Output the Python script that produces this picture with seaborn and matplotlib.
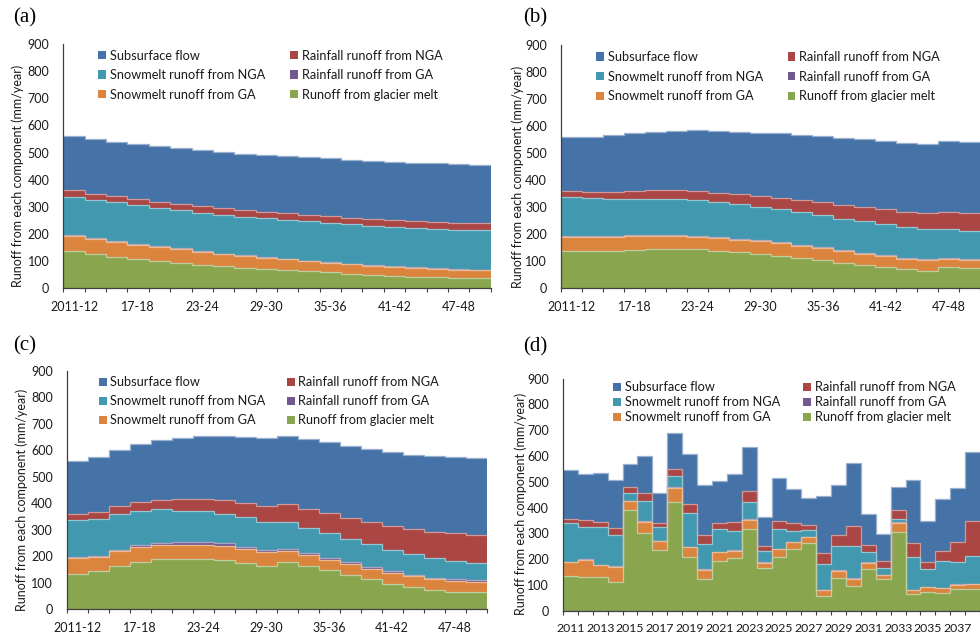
import numpy as np
import matplotlib
matplotlib.use("Agg")
import matplotlib.pyplot as plt
from matplotlib.patches import Patch
from matplotlib.colors import to_rgb
import seaborn as sns

sns.set_style("white")
plt.rcParams["font.family"] = ["Lato", "DejaVu Sans"]

# ---------------- data ----------------
components = ["Subsurface flow", "Rainfall runoff from NGA", "Snowmelt runoff from NGA",
              "Rainfall runoff from GA", "Snowmelt runoff from GA", "Runoff from glacier melt"]
colors = ["#4572A7", "#AA4643", "#4198AF", "#71588F", "#DB843D", "#89A54E"]

periods = ["2011-12", "13-14", "15-16", "17-18", "19-20", "21-22", "23-24", "25-26", "27-28",
           "29-30", "31-32", "33-34", "35-36", "37-38", "39-40", "41-42", "43-44", "45-46",
           "47-48", "49-50"]
years = [str(y) for y in range(2011, 2039)]

# panel (a)
a_subsurface = [200, 201, 200, 202, 204, 206, 206, 207, 207, 209, 210, 211, 214, 214, 212, 214, 215, 216, 216, 215]
a_rain_nga = [23, 25, 21, 20, 23, 24, 23, 24, 25, 24, 23, 24, 23, 23, 26, 27, 27, 27, 27, 24]
a_snow_nga = [140, 140, 143, 144, 142, 140, 143, 143, 143, 143, 144, 146, 145, 147, 147, 145, 144, 144, 144, 148]
a_rain_ga = [4, 4, 3, 3, 3, 3, 2, 2, 2, 2, 2, 2, 2, 2, 1, 1, 1, 1, 1, 1]
a_snow_ga = [56, 55, 55, 52, 49, 49, 47, 44, 43, 42, 39, 36, 36, 34, 33, 33, 33, 31, 31, 29]
a_glacier = [138, 125, 117, 109, 102, 95, 87, 82, 76, 71, 68, 63, 59, 54, 50, 47, 43, 41, 38, 37]

# panel (b)
b_subsurface = [199, 203, 209, 214, 217, 221, 225, 229, 231, 234, 239, 242, 244, 248, 251, 253, 255, 258, 263, 262]
b_rain_nga = [22, 25, 26, 27, 32, 33, 36, 35, 36, 40, 42, 44, 48, 51, 53, 55, 57, 59, 60, 66]
b_snow_nga = [142, 138, 137, 134, 131, 130, 130, 129, 128, 124, 120, 119, 118, 116, 117, 114, 114, 110, 108, 105]
b_rain_ga = [5, 4, 4, 4, 4, 4, 4, 4, 4, 4, 4, 4, 4, 4, 3, 3, 3, 3, 3, 3]
b_snow_ga = [52, 54, 52, 52, 51, 50, 47, 47, 47, 46, 47, 45, 43, 43, 40, 42, 40, 41, 31, 29]
b_glacier = [138, 137, 139, 142, 144, 145, 144, 139, 133, 128, 121, 113, 105, 95, 88, 78, 70, 64, 79, 76]

# panel (c)
c_subsurface = [198, 206, 212, 218, 226, 232, 239, 244, 250, 254, 256, 262, 268, 271, 276, 276, 281, 284, 286, 289]
c_rain_nga = [24, 25, 32, 35, 37, 43, 45, 51, 53, 60, 67, 72, 75, 82, 84, 91, 93, 101, 103, 106]
c_snow_nga = [139, 140, 133, 129, 126, 119, 117, 111, 112, 106, 101, 97, 95, 86, 87, 82, 78, 74, 71, 67]
c_rain_ga = [5, 3, 5, 7, 9, 9, 9, 10, 7, 8, 8, 7, 6, 7, 5, 7, 5, 4, 5, 5]
c_snow_ga = [59, 56, 55, 54, 53, 53, 53, 54, 55, 54, 40, 39, 38, 40, 37, 39, 42, 41, 41, 37]
c_glacier = [133, 143, 165, 180, 189, 191, 191, 185, 173, 163, 180, 165, 148, 131, 116, 97, 84, 73, 67, 67]

# panel (d)
d_subsurface = [192, 181, 191, 184, 91, 145, 115, 140, 194, 192, 163, 184, 172, 114, 164, 132, 104, 222,
                191, 244, 123, 105, 89, 243, 159, 199, 212, 267]
d_rain_nga = [15, 27, 17, 27, 20, 30, 17, 26, 34, 35, 24, 37, 44, 20, 31, 31, 21, 40, 43, 78, 27, 27,
              35, 57, 28, 40, 75, 136]
d_snow_nga = [150, 123, 148, 122, 32, 78, 52, 43, 130, 99, 89, 73, 65, 43, 78, 43, 27, 101, 95, 126,
              39, 24, 14, 125, 67, 104, 88, 107]
d_rain_ga = [2] * 28
d_snow_ga = [51, 66, 47, 61, 35, 45, 34, 54, 37, 36, 35, 30, 35, 19, 29, 27, 20, 22, 27, 30, 22, 16,
             37, 15, 20, 17, 17, 20]
d_glacier = [136, 132, 129, 110, 389, 300, 235, 423, 209, 122, 191, 203, 318, 167, 209, 238, 264, 57,
             128, 94, 163, 122, 304, 65, 71, 70, 83, 83]

panels = {
    "a": (periods, [a_subsurface, a_rain_nga, a_snow_nga, a_rain_ga, a_snow_ga, a_glacier]),
    "b": (periods, [b_subsurface, b_rain_nga, b_snow_nga, b_rain_ga, b_snow_ga, b_glacier]),
    "c": (periods, [c_subsurface, c_rain_nga, c_snow_nga, c_rain_ga, c_snow_ga, c_glacier]),
    "d": (years, [d_subsurface, d_rain_nga, d_snow_nga, d_rain_ga, d_snow_ga, d_glacier]),
}

# ---------------- layout ----------------
W, H = 980, 634
fig = plt.figure(figsize=(W / 100, H / 100), dpi=100)

# (left px, right px, top px (900), bottom px (0))
boxes = {
    "a": (63.3, 490.7, 44.0, 288.3),
    "b": (561.0, 980.0, 45.0, 288.3),
    "c": (66.7, 486.7, 370.7, 609.3),
    "d": (563.0, 980.0, 378.7, 610.7),
}
colwidth = {"a": 427.4 / 20, "b": 21.3, "c": 420.0 / 20, "d": 15.3}
label_every = {"a": 3, "b": 3, "c": 3, "d": 2}
# legend: column x positions (px), top y (px), labelspacing
legend_cfg = {
    "a": dict(x1=98, x2=290, y=49.5, ls=0.59),
    "b": dict(x1=596, x2=787.5, y=51, ls=0.59),
    "c": dict(x1=99, x2=287, y=376.5, ls=0.54),
    "d": dict(x1=613, x2=803, y=381.5, ls=0.23),
}
ylabel_off = {"a": -39, "b": -37, "c": -38.7, "d": -36}
tag_pos = {"a": (13, 18), "b": (523, 18), "c": (13, 346), "d": (523, 347)}

def lighten(c, f=0.45):
    r, g, b = to_rgb(c)
    return (r + (1 - r) * f, g + (1 - g) * f, b + (1 - b) * f)

axis_col = "#404040"
text_col = "#1a1a1a"
FS = 9.0
LFS = 9.2

for key, (cats, series) in panels.items():
    l, r, t, b = boxes[key]
    ax = fig.add_axes([l / W, 1 - b / H, (r - l) / W, (b - t) / H])
    n = len(cats)
    arr = np.array(series, dtype=float)
    cum_from_bottom = np.cumsum(arr[::-1], axis=0)[::-1]
    edges = np.arange(n + 1) - 0.5
    for i in range(len(components)):
        sns.barplot(x=cats, y=cum_from_bottom[i], order=cats, color=colors[i], width=1.0,
                    saturation=1, linewidth=0, errorbar=None, ax=ax, zorder=1)
    for i in range(len(components)):
        ax.stairs(cum_from_bottom[i], edges, baseline=None, color=lighten(colors[i]),
                  lw=0.9, zorder=2)

    ax.set_ylim(0, 900)
    ax.set_xlim(-0.5, -0.5 + (r - l) / colwidth[key])
    ax.set_yticks(range(0, 901, 100))
    ax.set_yticklabels([str(v) for v in range(0, 901, 100)])
    ax.set_xticks(range(0, n, label_every[key]))
    ax.set_xticklabels([cats[i] for i in range(0, n, label_every[key])])
    ax.set_xticks(edges, minor=True)
    ax.tick_params(axis="x", which="major", length=0, pad=9, labelsize=FS if key != "d" else 8.8,
                   colors=text_col)
    ax.tick_params(axis="x", which="minor", length=3, width=0.8, color=axis_col, direction="out",
                   bottom=True)
    ax.tick_params(axis="y", length=3.6, width=0.8, color=axis_col, direction="out", pad=6.5,
                   labelsize=FS, labelcolor=text_col)
    for s in ["top", "right"]:
        ax.spines[s].set_visible(False)
    for s in ["left", "bottom"]:
        ax.spines[s].set_color(axis_col)
        ax.spines[s].set_linewidth(0.9)
    ax.set_xlabel("")
    ax.set_ylabel("Runoff from each component (mm/year)", fontsize=FS, color=text_col)
    ax.yaxis.set_label_coords(ylabel_off[key] / (r - l), 0.46)
    ax.grid(False)

    lc = legend_cfg[key]
    ytop = (b - lc["y"]) / (b - t)
    leg_objs = []
    for col_idx, (xcol, idxs) in enumerate([(lc["x1"], [0, 2, 4]), (lc["x2"], [1, 3, 5])]):
        handles = [Patch(facecolor=colors[i], edgecolor="none") for i in idxs]
        labels = [components[i] for i in idxs]
        leg = ax.legend(handles, labels, ncol=1, loc="upper left", frameon=False,
                        bbox_to_anchor=((xcol - l) / (r - l), ytop),
                        handlelength=0.6, handleheight=0.6, handletextpad=0.3,
                        labelspacing=lc["ls"], borderaxespad=0, borderpad=0,
                        fontsize=LFS, labelcolor=text_col)
        leg_objs.append(leg)
    ax.add_artist(leg_objs[0])

    tx, ty = tag_pos[key]
    fig.text(tx / W, 1 - ty / H, f"({key})", fontsize=15, family=["Liberation Serif", "DejaVu Serif"],
             va="center", ha="left", color="black")

fig.savefig("out.png", dpi=100)
